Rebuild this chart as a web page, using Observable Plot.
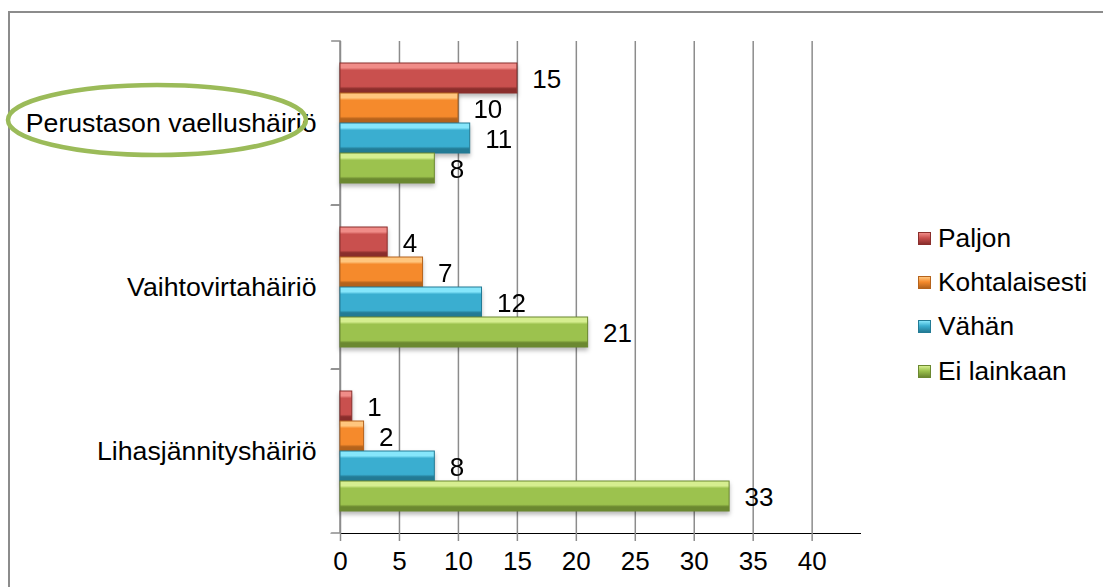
<!DOCTYPE html>
<html>
<head>
<meta charset="utf-8">
<script src="https://cdn.jsdelivr.net/npm/d3@7"></script>
<script src="https://cdn.jsdelivr.net/npm/@observablehq/plot@0.6"></script>
<style>
  html, body { margin: 0; padding: 0; background: #fff; width: 1103px; height: 587px; overflow: hidden; }
  #wrap { position: relative; width: 1103px; height: 587px; font-family: "Liberation Sans", Arial, sans-serif; }
  #frame { position: absolute; left: 8px; top: 11px; width: 1300px; height: 800px; border: 2px solid #8c8c8c; box-sizing: border-box; }
  #chart { position: absolute; left: 0; top: 0; }
  #chart svg [aria-label^="x-axis"] line, #chart svg [aria-label^="x-axis"] path { stroke: #8c8c8c; stroke-width: 1.5px; }
  #chart svg [aria-label^="fy-axis"] text { font-size: 26.7px; }
  #chart svg [aria-label="bar"] { filter: drop-shadow(0px 3px 2px rgba(0,0,0,0.28)); }
  #legend { position: absolute; left: 918px; top: 216px; font-size: 26.3px; color: #000; }
  #legend .row { height: 44.3px; display: flex; align-items: center; }
  #legend .sw { width: 13px; height: 13px; margin-right: 7px; box-sizing: border-box; }
  #anno { position: absolute; left: 0; top: 0; pointer-events: none; }
</style>
</head>
<body>
<div id="wrap">
  <div id="frame"></div>
  <div id="chart"></div>
  <div id="legend"></div>
  <svg id="anno" width="1103" height="587"><ellipse cx="157" cy="120" rx="149" ry="35" fill="none" stroke="#9bbb59" stroke-width="4.5"/></svg>
</div>
<script>
// ---- data ----
const categories = ["Perustason vaellushäiriö", "Vaihtovirtahäiriö", "Lihasjännityshäiriö"];
const series = ["Paljon", "Kohtalaisesti", "Vähän", "Ei lainkaan"];
const paljon = [15, 4, 1];
const kohtalaisesti = [10, 7, 2];
const vahan = [11, 12, 8];
const eiLainkaan = [8, 21, 33];
const xTicks = [0, 5, 10, 15, 20, 25, 30, 35, 40];
const xMax = 44.1;

// ---- styles ----
const seriesColors = [
  {light: "#f08c88", mid: "#c9504e", dark: "#8a2e2c"},
  {light: "#ffc67e", mid: "#f58a2c", dark: "#b5631c"},
  {light: "#86e6fb", mid: "#3aaed0", dark: "#237b95"},
  {light: "#d6ee90", mid: "#9cc24e", dark: "#6b8830"}
];
const gridColor = "#8c8c8c";

const valuesBySeries = [paljon, kohtalaisesti, vahan, eiLainkaan];
const rows = [];
categories.forEach((c, i) => series.forEach((s, j) => rows.push({cat: c, series: s, value: valuesBySeries[j][i]})));

const barMarks = series.map((s, j) => Plot.barX(rows, {
  filter: d => d.series === s,
  x: "value",
  y: "series",
  fill: `url(#grad${j})`,
  stroke: seriesColors[j].dark,
  strokeWidth: 1
}));

const chart = Plot.plot({
  width: 1103,
  height: 587,
  marginLeft: 340,
  marginRight: 1103 - 860,
  marginTop: 41,
  marginBottom: 54,
  style: {fontFamily: "'Liberation Sans', Arial, sans-serif", fontSize: "26px", color: "#000", background: "transparent", overflow: "visible"},
  facet: {data: rows, y: "cat"},
  fy: {domain: categories, padding: 0, label: null, axis: "left", tickSize: 0, tickPadding: 24},
  y: {domain: series, paddingInner: 0, paddingOuter: 0.733, axis: null},
  x: {domain: [0, xMax], ticks: xTicks, tickFormat: d => String(d), tickSize: 8, tickPadding: 10, line: true, label: null},
  marks: [
    Plot.ruleX(xTicks.filter(t => t > 0), {stroke: gridColor, strokeWidth: 1.5}),
    Plot.ruleX([0], {stroke: gridColor, strokeWidth: 1.5}),
    // category boundary ticks (top, right = axis, bottom edges of a thin rect per facet)
    Plot.rect([0], {x1: -0.75, x2: 0, fill: "none", stroke: gridColor, strokeWidth: 1.5, strokeDasharray: "182 400"}),
    ...barMarks,
    Plot.text(rows, {x: "value", y: "series", text: d => String(d.value), dx: 15, dy: 1, textAnchor: "start", fill: "#000", fontSize: 26})
  ]
});

// gradients for bevelled bars
const defs = d3.select(chart).insert("defs", ":first-child");
seriesColors.forEach((c, j) => {
  const g = defs.append("linearGradient").attr("id", `grad${j}`).attr("x1", 0).attr("y1", 0).attr("x2", 0).attr("y2", 1);
  [[0, c.light], [0.16, c.light], [0.24, c.mid], [0.78, c.mid], [0.86, c.dark], [1, c.dark]].forEach(([o, col]) => {
    g.append("stop").attr("offset", o).attr("stop-color", col);
  });
});
document.getElementById("chart").appendChild(chart);

// legend
const legend = document.getElementById("legend");
series.forEach((s, j) => {
  const row = document.createElement("div");
  row.className = "row";
  const sw = document.createElement("div");
  sw.className = "sw";
  sw.style.background = `linear-gradient(${seriesColors[j].light}, ${seriesColors[j].mid} 45%, ${seriesColors[j].dark})`;
  sw.style.border = `1px solid ${seriesColors[j].dark}`;
  const t = document.createElement("span");
  t.textContent = s;
  row.appendChild(sw);
  row.appendChild(t);
  legend.appendChild(row);
});
</script>
</body>
</html>
